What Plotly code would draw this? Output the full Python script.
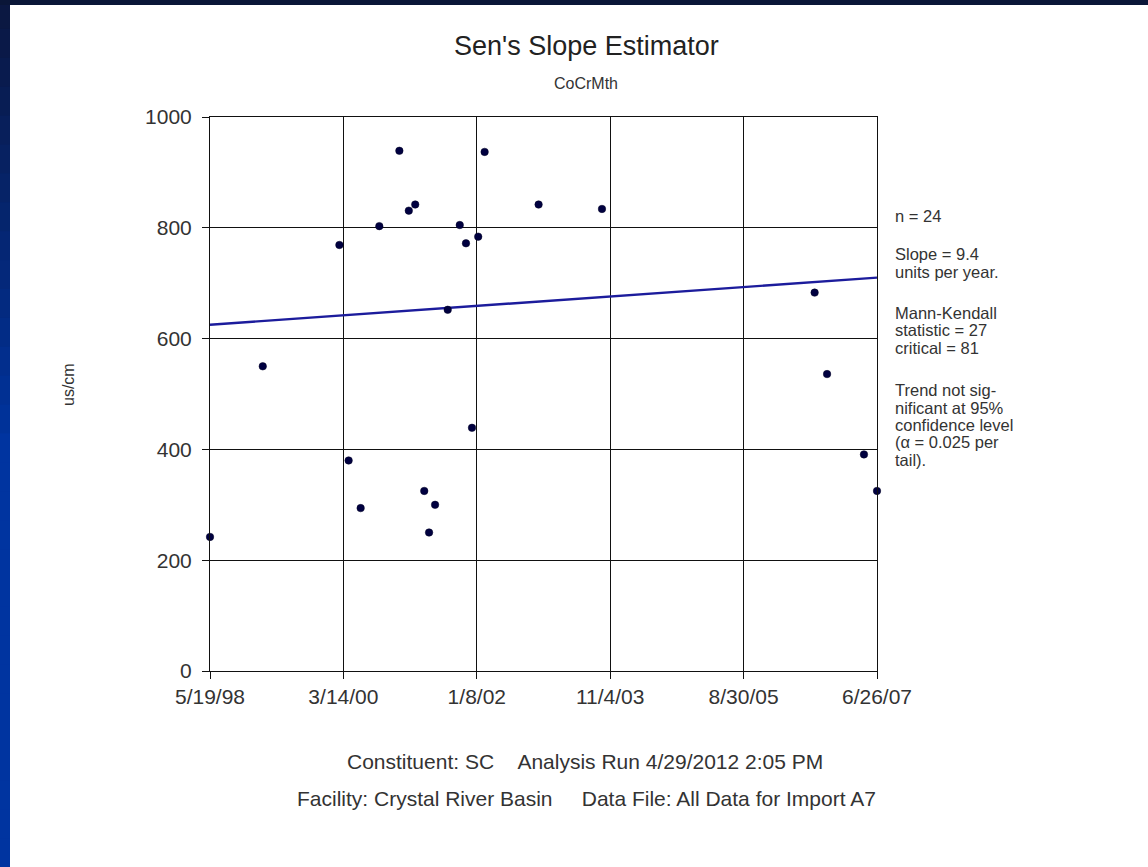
import plotly.graph_objects as go

# ---------------- data ----------------
sample_dates = [
    "1998-05-19", "1999-02-06", "2000-02-23", "2000-04-09", "2000-06-08",
    "2000-09-09", "2000-12-18", "2001-02-03", "2001-03-07", "2001-04-21",
    "2001-05-15", "2001-06-14", "2001-08-16", "2001-10-15", "2001-11-15",
    "2001-12-15", "2002-01-15", "2002-02-16", "2002-11-12", "2003-09-24",
    "2006-08-19", "2006-10-20", "2007-04-22", "2007-06-26",
]
sc_values = [
    242, 550, 769, 380, 294,
    803, 939, 831, 842, 325,
    250, 300, 652, 805, 772,
    439, 784, 937, 842, 834,
    683, 536, 391, 325,
]
trend_dates = ["1998-05-19", "2007-06-26"]
trend_values = [625, 710]

x_tick_dates = ["1998-05-19", "2000-03-14", "2002-01-08", "2003-11-04", "2005-08-30", "2007-06-26"]
x_tick_labels = ["5/19/98", "3/14/00", "1/8/02", "11/4/03", "8/30/05", "6/26/07"]
y_tick_values = [0, 200, 400, 600, 800, 1000]

stats_lines = [
    "n = 24",
    "Slope = 9.4", "units per year.",
    "Mann-Kendall", "statistic = 27", "critical = 81",
    "Trend not sig-", "nificant at 95%", "confidence level", "(\u03b1 = 0.025 per", "tail).",
]

# ---------------- layout geometry (pixels) ----------------
W, H = 1148, 867
L, R, T, B = 210, 877, 117, 671
FONT = "Liberation Sans, Arial, sans-serif"


def px_x(px):
    return (px - L) / (R - L)


def px_y(py):
    return (B - py) / (B - T)


fig = go.Figure()
fig.add_trace(go.Scatter(
    x=trend_dates, y=trend_values, mode="lines",
    line=dict(color="#1c1c9c", width=2.4), cliponaxis=False, hoverinfo="skip",
))
fig.add_trace(go.Scatter(
    x=sample_dates, y=sc_values, mode="markers",
    marker=dict(color="#000040", size=7.5, line=dict(color="#000022", width=0.5)),
    cliponaxis=False,
))

axis_common = dict(
    showgrid=True, gridcolor="#111111", gridwidth=1,
    showline=True, linecolor="#111111", linewidth=1, mirror=True,
    ticks="outside", ticklen=7, tickcolor="#111111", tickwidth=1,
    tickfont=dict(family=FONT, size=21, color="#333333"),
    zeroline=False,
)

fig.update_layout(
    width=W, height=H,
    margin=dict(l=L, r=W - R, t=T, b=H - B, pad=0),
    paper_bgcolor="white", plot_bgcolor="white",
    showlegend=False,
    font=dict(family=FONT, color="#333333"),
    xaxis=dict(
        type="date", range=[x_tick_dates[0], x_tick_dates[-1]],
        tickmode="array", tickvals=x_tick_dates, ticktext=x_tick_labels,
        ticklabelstandoff=0,
        **axis_common,
    ),
    yaxis=dict(
        range=[0, 1000], tickmode="array", tickvals=y_tick_values,
        ticklabelstandoff=6,
        **axis_common,
    ),
)

shapes = []
# dark blue frame: left strip with vertical gradient, top strip
n_seg = 30
top_c = (11, 24, 66)
bot_c = (0, 52, 160)
for i in range(n_seg):
    y0 = H * i / n_seg
    y1 = H * (i + 1) / n_seg + 1
    t = min(1.0, (i / n_seg) / 0.5)
    c = tuple(int(top_c[k] + (bot_c[k] - top_c[k]) * t) for k in range(3))
    shapes.append(dict(
        type="rect", xref="paper", yref="paper", layer="below",
        x0=px_x(0), x1=px_x(10), y0=px_y(y0), y1=px_y(y1),
        fillcolor="rgb(%d,%d,%d)" % c, line=dict(width=0),
    ))
shapes.append(dict(
    type="rect", xref="paper", yref="paper", layer="below",
    x0=px_x(0), x1=px_x(W), y0=px_y(0), y1=px_y(5),
    fillcolor="rgb(10,22,56)", line=dict(width=0),
))
fig.update_layout(shapes=shapes)

ann = []
ann.append(dict(text="Sen's Slope Estimator", x=px_x(586), y=px_y(46),
                font=dict(size=27, color="#222222", family=FONT)))
ann.append(dict(text="CoCrMth", x=px_x(586), y=px_y(83),
                font=dict(size=16, color="#333333", family=FONT)))
ann.append(dict(text="us/cm", x=px_x(68), y=px_y(385), textangle=-90,
                font=dict(size=16, color="#333333", family=FONT)))
ann.append(dict(text="Constituent: SC&nbsp;&nbsp;&nbsp;&nbsp;Analysis Run 4/29/2012 2:05 PM",
                x=px_x(585), y=px_y(761), font=dict(size=21, color="#333333", family=FONT)))
ann.append(dict(text="Facility: Crystal River Basin&nbsp;&nbsp;&nbsp;&nbsp;&nbsp;Data File: All Data for Import A7",
                x=px_x(586), y=px_y(798), font=dict(size=21, color="#333333", family=FONT)))
stats_y = [216, 254, 272, 313, 330, 348, 390, 408, 425, 442, 460]
for line, py in zip(stats_lines, stats_y):
    ann.append(dict(text=line, x=px_x(893), y=px_y(py), xanchor="left",
                    font=dict(size=16.5, color="#333333", family=FONT)))
for a in ann:
    a.setdefault("xanchor", "center")
    a.update(xref="paper", yref="paper", yanchor="middle", showarrow=False)
fig.update_layout(annotations=ann)

fig.write_html(
    "out.html",
    config={"displayModeBar": False},
    post_script="document.body.style.margin='0';document.body.style.overflow='hidden';",
)
